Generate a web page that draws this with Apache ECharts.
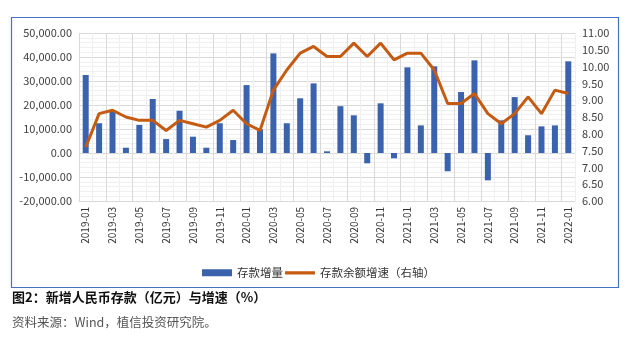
<!DOCTYPE html>
<html>
<head>
<meta charset="utf-8">
<script src="https://cdn.jsdelivr.net/npm/echarts@6/dist/echarts.min.js"></script>
<style>
html,body{margin:0;padding:0;background:#fff;}
#c{width:637px;height:347px;}
</style>
</head>
<body>
<div id="c"></div>
<script>
var categories = ['2019-01','2019-02','2019-03','2019-04','2019-05','2019-06','2019-07','2019-08','2019-09','2019-10','2019-11','2019-12',
'2020-01','2020-02','2020-03','2020-04','2020-05','2020-06','2020-07','2020-08','2020-09','2020-10','2020-11','2020-12',
'2021-01','2021-02','2021-03','2021-04','2021-05','2021-06','2021-07','2021-08','2021-09','2021-10','2021-11','2021-12','2022-01'];
var depositIncrease = [32500,12400,17200,2200,11700,22500,5800,17600,6800,2200,12400,5400,
28300,9900,41500,12400,22800,29000,700,19500,15700,-4300,20700,-2200,
35700,11500,36100,-7600,25400,38600,-11400,13600,23300,7400,11100,11500,38200];
var depositGrowth = [7.6,8.6,8.7,8.5,8.4,8.4,8.1,8.4,8.3,8.2,8.4,8.7,
8.3,8.1,9.3,9.9,10.4,10.6,10.3,10.3,10.7,10.3,10.7,10.2,
10.4,10.4,9.9,8.9,8.9,9.2,8.6,8.3,8.6,9.1,8.6,9.3,9.2];
var seriesNames = ['存款增量','存款余额增速（右轴）'];
var captionText = '图2：新增人民币存款（亿元）与增速（%）';
var sourceText = '资料来源：Wind，植信投资研究院。';

var chart = echarts.init(document.getElementById('c'));
var fontFam = '"Noto Sans CJK SC", "Noto Sans", sans-serif';
function fmtThousands(v){
  var s = Math.abs(v).toFixed(2);
  var parts = s.split('.');
  parts[0] = parts[0].replace(/\B(?=(\d{3})+(?!\d))/g, ',');
  return (v < 0 ? '-' : '') + parts.join('.');
}
chart.setOption({
  animation:false,
  backgroundColor:'#fff',
  textStyle:{fontFamily:fontFam},
  grid:{left:79,right:62,top:33,bottom:146,containLabel:false},
  legend:{
    left:'center', top:262, itemGap:2, itemWidth:30, itemHeight:7,
    textStyle:{fontSize:11.5,color:'#333',fontFamily:fontFam},
    data:[
      {name:seriesNames[0],icon:'rect'},
      {name:seriesNames[1],icon:'path://M0,0h0.01v0.01h-0.01z M0,2h30v3.2h-30z M0,7h0.01v0.01h-0.01z'}
    ]
  },
  xAxis:{
    type:'category', data:categories, boundaryGap:true,
    axisLine:{show:true,onZero:false,lineStyle:{color:'#d9d9d9'}},
    axisTick:{show:false},
    axisLabel:{rotate:90,interval:1,fontSize:10,color:'#333',margin:6,fontFamily:fontFam},
    splitLine:{show:true,interval:0,lineStyle:{color:['#d9d9d9','#efefef'],width:1}}
  },
  yAxis:[{
    type:'value', min:-20000, max:50000, interval:10000, position:'left',
    axisLine:{show:false}, axisTick:{show:false},
    axisLabel:{fontSize:11,color:'#404040',margin:7,formatter:fmtThousands,fontFamily:fontFam},
    splitLine:{show:true,lineStyle:{color:'#d9d9d9'}},
    minorTick:{show:false,splitNumber:5},
    minorSplitLine:{show:true,lineStyle:{color:'#f0f0f0'}}
  },{
    type:'value', min:6, max:11, interval:0.5, position:'right',
    axisLine:{show:false}, axisTick:{show:false},
    axisLabel:{fontSize:11,color:'#404040',margin:7,formatter:function(v){return v.toFixed(2);},fontFamily:fontFam},
    splitLine:{show:false}
  }],
  series:[{
    name:seriesNames[0], type:'bar', data:depositIncrease, barWidth:6,
    itemStyle:{color:'#3A62AD'}, yAxisIndex:0
  },{
    name:seriesNames[1], type:'line', data:depositGrowth, yAxisIndex:1,
    symbol:'none', lineStyle:{color:'#C55A11',width:3}, itemStyle:{color:'#C55A11'}
  }],
  graphic:[{
    type:'rect', shape:{x:11.5,y:17.5,width:607,height:270},
    style:{fill:'none',stroke:'#4472C4',lineWidth:1.2}, silent:true
  },{
    type:'text', left:12, top:291,
    style:{text:captionText,fontSize:13,fontWeight:'bold',fill:'#111',fontFamily:fontFam}
  },{
    type:'text', left:12, top:316,
    style:{text:sourceText,fontSize:12.5,fill:'#555',fontFamily:fontFam}
  }]
});
</script>
</body>
</html>
